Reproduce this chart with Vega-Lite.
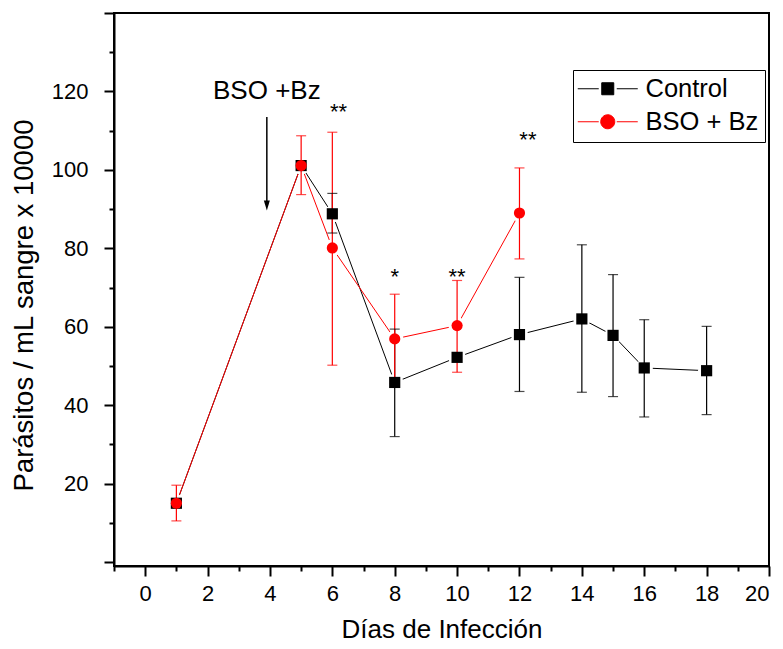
{
  "$schema": "https://vega.github.io/schema/vega-lite/v6.json",
  "width": 655,
  "height": 553,
  "autosize": "none",
  "padding": {"left": 114, "top": 13, "right": 14, "bottom": 83},
  "config": {
    "font": "Liberation Sans",
    "view": {"stroke": "black", "strokeWidth": 2},
    "axis": {"grid": false, "domainColor": "black", "domainWidth": 2, "tickColor": "black", "tickWidth": 2, "labelColor": "black", "labelFontSize": 22, "titleColor": "black", "titleFontSize": 26, "titleFontWeight": "normal"}
  },
  "datasets": {
    "series": [
      {"series": "Control", "day": 1, "value": 15.0, "lo": null, "hi": null},
      {"series": "Control", "day": 5, "value": 101.1, "lo": null, "hi": null},
      {"series": "Control", "day": 6, "value": 88.8, "lo": 83.9, "hi": 94.0},
      {"series": "Control", "day": 8, "value": 45.8, "lo": 32.0, "hi": 59.4},
      {"series": "Control", "day": 10, "value": 52.2, "lo": null, "hi": null},
      {"series": "Control", "day": 12, "value": 58.0, "lo": 43.5, "hi": 72.6},
      {"series": "Control", "day": 14, "value": 62.0, "lo": 43.3, "hi": 80.9},
      {"series": "Control", "day": 15, "value": 57.8, "lo": 42.2, "hi": 73.3},
      {"series": "Control", "day": 16, "value": 49.5, "lo": 37.0, "hi": 61.8},
      {"series": "Control", "day": 18, "value": 48.8, "lo": 37.6, "hi": 60.1},
      {"series": "BSO + Bz", "day": 1, "value": 15.0, "lo": 10.5, "hi": 19.6},
      {"series": "BSO + Bz", "day": 5, "value": 101.1, "lo": 93.7, "hi": 108.7},
      {"series": "BSO + Bz", "day": 6, "value": 80.1, "lo": 50.2, "hi": 109.6},
      {"series": "BSO + Bz", "day": 8, "value": 56.9, "lo": 45.5, "hi": 68.3},
      {"series": "BSO + Bz", "day": 10, "value": 60.3, "lo": 48.4, "hi": 71.8},
      {"series": "BSO + Bz", "day": 12, "value": 89.0, "lo": 77.3, "hi": 100.5}
    ],
    "stars": [
      {"day": 6.2, "value": 112.9, "label": "**"},
      {"day": 8.0, "value": 71.0, "label": "*"},
      {"day": 10.0, "value": 71.0, "label": "**"},
      {"day": 12.27, "value": 105.8, "label": "**"}
    ],
    "note": [
      {"day": 3.9, "value": 120.0, "label": "BSO +Bz", "top": 113.5, "bottom": 91.5, "tip": 90.9}
    ]
  },
  "layer": [
    {
      "data": {"name": "series"},
      "mark": {"type": "line", "strokeWidth": 1},
      "encoding": {
        "x": {"field": "day", "type": "quantitative", "scale": {"domain": [-1, 20], "nice": false, "zero": false},
              "axis": {"values": [0, 2, 4, 6, 8, 10, 12, 14, 16, 18, 20], "tickSize": 10, "labelPadding": 7, "title": "Días de Infección", "titlePadding": 12}},
        "y": {"field": "value", "type": "quantitative", "scale": {"domain": [-1, 140], "nice": false, "zero": false},
              "axis": {"values": [0, 20, 40, 60, 80, 100, 120, 140], "tickSize": 10, "labelPadding": 16, "labelExpr": "datum.value >= 20 && datum.value <= 120 ? datum.label : ''", "title": "Parásitos / mL sangre x 10000", "titleFontSize": 27.5, "titlePadding": 13, "titleY": 292}},
        "color": {"field": "series", "type": "nominal", "scale": {"domain": ["Control", "BSO + Bz"], "range": ["#000000", "#ff0000"]},
                  "legend": {"orient": "none", "legendX": 459, "legendY": 57, "title": null, "strokeColor": "black", "padding": 6, "labelFontSize": 25.5, "labelColor": "black", "labelFont": "Liberation Sans", "symbolSize": 144, "symbolOffset": 16, "labelOffset": 25, "rowPadding": 6, "symbolStrokeWidth": 1, "symbolOpacity": 1,
                    "encode": {"symbols": {"update": {
                      "shape": [{"test": "datum.label === 'Control'", "value": "M-5,0H-1.5M1.5,0H5M-1,-1H1V1H-1Z"}, {"value": "M-5,0H-1.5M1.5,0H5M1.17,0A1.17,1.17,0,1,1,-1.17,0A1.17,1.17,0,1,1,1.17,0Z"}],
                      "fill": [{"test": "datum.label === 'Control'", "value": "#000000"}, {"value": "#ff0000"}],
                      "stroke": [{"test": "datum.label === 'Control'", "value": "#000000"}, {"value": "#ff0000"}]
                    }}}}},
        "order": {"field": "day", "type": "quantitative"}
      }
    },
    {
      "data": {"name": "series"},
      "mark": {"type": "point", "filled": true, "color": "white", "opacity": 1, "size": 300, "shape": "circle"},
      "encoding": {
        "x": {"field": "day", "type": "quantitative", "axis": {"values": [-1, 1, 3, 5, 7, 9, 11, 13, 15, 17, 19], "tickSize": 5, "labels": false, "domain": false, "title": null, "orient": "bottom"}},
        "y": {"field": "value", "type": "quantitative", "axis": {"values": [10, 30, 50, 70, 90, 110, 130], "tickSize": 5, "labels": false, "domain": false, "title": null, "orient": "left"}}
      }
    },
    {
      "data": {"name": "series"},
      "mark": {"type": "rule", "strokeWidth": 1.2},
      "encoding": {
        "x": {"field": "day", "type": "quantitative", "axis": null},
        "y": {"field": "lo", "type": "quantitative", "axis": null},
        "y2": {"field": "hi"},
        "color": {"field": "series", "type": "nominal", "legend": null}
      }
    },
    {
      "data": {"name": "series"},
      "mark": {"type": "tick", "orient": "horizontal", "size": 10, "thickness": 1.2},
      "encoding": {
        "x": {"field": "day", "type": "quantitative", "axis": null},
        "y": {"field": "lo", "type": "quantitative", "axis": null},
        "color": {"field": "series", "type": "nominal", "legend": null}
      }
    },
    {
      "data": {"name": "series"},
      "mark": {"type": "tick", "orient": "horizontal", "size": 10, "thickness": 1.2},
      "encoding": {
        "x": {"field": "day", "type": "quantitative", "axis": null},
        "y": {"field": "hi", "type": "quantitative", "axis": null},
        "color": {"field": "series", "type": "nominal", "legend": null}
      }
    },
    {
      "data": {"name": "series"},
      "transform": [{"filter": "datum.series === 'Control'"}],
      "mark": {"type": "point", "filled": true, "opacity": 1, "size": 125, "strokeWidth": 0, "shape": "square"},
      "encoding": {
        "x": {"field": "day", "type": "quantitative", "axis": null},
        "y": {"field": "value", "type": "quantitative", "axis": null},
        "color": {"field": "series", "type": "nominal", "legend": null}
      }
    },
    {
      "data": {"name": "series"},
      "transform": [{"filter": "datum.series === 'BSO + Bz'"}],
      "mark": {"type": "point", "filled": true, "opacity": 1, "size": 125, "strokeWidth": 0, "shape": "circle"},
      "encoding": {
        "x": {"field": "day", "type": "quantitative", "axis": null},
        "y": {"field": "value", "type": "quantitative", "axis": null},
        "color": {"field": "series", "type": "nominal", "legend": null}
      }
    },
    {
      "data": {"name": "stars"},
      "mark": {"type": "text", "fontSize": 22, "baseline": "alphabetic", "align": "center", "color": "black"},
      "encoding": {
        "x": {"field": "day", "type": "quantitative", "axis": null},
        "y": {"field": "value", "type": "quantitative", "axis": null},
        "text": {"field": "label"}
      }
    },
    {
      "data": {"name": "note"},
      "mark": {"type": "text", "fontSize": 26, "baseline": "middle", "align": "center", "color": "black"},
      "encoding": {
        "x": {"field": "day", "type": "quantitative", "axis": null},
        "y": {"field": "value", "type": "quantitative", "axis": null},
        "text": {"field": "label"}
      }
    },
    {
      "data": {"name": "note"},
      "mark": {"type": "rule", "strokeWidth": 1.5, "color": "black"},
      "encoding": {
        "x": {"field": "day", "type": "quantitative", "axis": null},
        "y": {"field": "top", "type": "quantitative", "axis": null},
        "y2": {"field": "bottom"}
      }
    },
    {
      "data": {"name": "note"},
      "mark": {"type": "point", "filled": true, "color": "black", "opacity": 1, "size": 100, "strokeWidth": 0, "shape": "M-0.6,-1L0.6,-1L0,1Z"},
      "encoding": {
        "x": {"field": "day", "type": "quantitative", "axis": null},
        "y": {"field": "tip", "type": "quantitative", "axis": null}
      }
    }
  ],
  "resolve": {"axis": {"x": "independent", "y": "independent"}}
}
